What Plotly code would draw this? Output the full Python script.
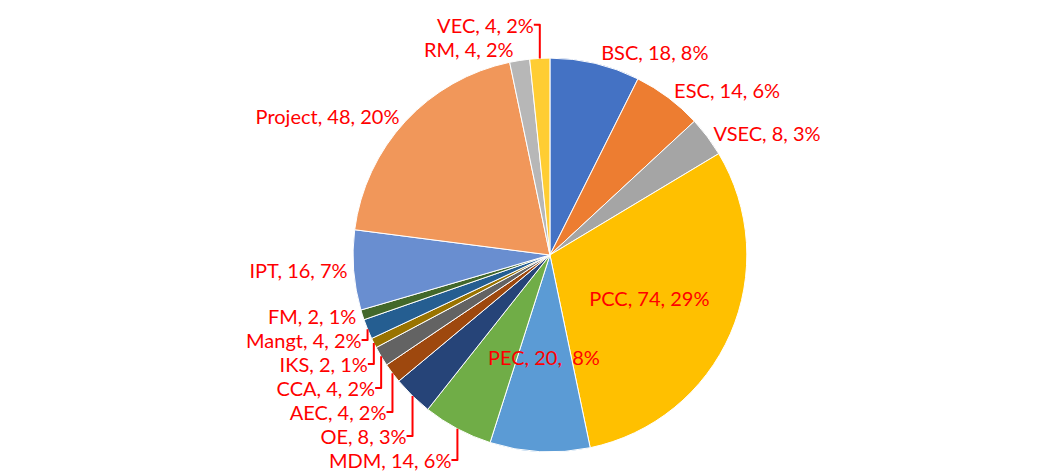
import math
import plotly.graph_objects as go

labels = ["BSC", "ESC", "VSEC", "PCC", "PEC", "MDM", "OE", "AEC", "CCA", "IKS",
          "Mangt", "FM", "IPT", "Project", "RM", "VEC"]
values = [18, 14, 8, 74, 20, 14, 8, 4, 4, 2, 4, 2, 16, 48, 4, 4]
pct_labels = ["8%", "6%", "3%", "29%", "8%", "6%", "3%", "2%", "2%", "1%",
              "2%", "1%", "7%", "20%", "2%", "2%"]
colors = ["#4472C4", "#ED7D31", "#A5A5A5", "#FFC000", "#5B9BD5", "#70AD47",
          "#264478", "#9E480E", "#636363", "#997300", "#255E91", "#43682B",
          "#698ED0", "#F1975A", "#B7B7B7", "#FFCD33"]

W, H = 1063, 471
M = 10
dom_x = [0.185, 0.805]
dom_y = [0.04, 0.96]

texts = []
for l, v, p in zip(labels, values, pct_labels):
    sep = ",  " if l == "PEC" else ", "
    texts.append(f"{l}, {v}{sep}{p}")

# PEC label is drawn as an annotation so it keeps full size like the reference
positions = []
for l in labels:
    if l == "PCC":
        positions.append("inside")
    elif l == "PEC":
        positions.append("none")
    else:
        positions.append("outside")

fig = go.Figure(go.Pie(
    labels=labels,
    values=values,
    text=texts,
    textinfo="text",
    textposition=positions,
    sort=False,
    direction="clockwise",
    rotation=0,
    marker=dict(colors=colors, line=dict(color="white", width=1)),
    textfont=dict(color="#FF0000", size=20, family="Lato"),
    insidetextorientation="horizontal",
    showlegend=False,
    domain=dict(x=dom_x, y=dom_y),
))

# place PEC label at the slice's mid-angle, derived from the data
total = sum(values)
i = labels.index("PEC")
mid = (sum(values[:i]) + values[i] / 2) / total * 2 * math.pi
plot_w, plot_h = W - 2 * M, H - 2 * M
cx = (dom_x[0] + dom_x[1]) / 2
cy = (dom_y[0] + dom_y[1]) / 2
r_px = 0.62 * 197
fig.add_annotation(
    x=cx + r_px * math.sin(mid) / plot_w,
    y=cy + r_px * math.cos(mid) / plot_h,
    xref="paper", yref="paper",
    text=texts[i], showarrow=False,
    font=dict(color="#FF0000", size=20, family="Lato"),
)

fig.update_layout(
    width=W, height=H,
    margin=dict(l=M, r=M, t=M, b=M),
    paper_bgcolor="white",
    plot_bgcolor="white",
    font=dict(family="Lato", color="#FF0000"),
)

fig.write_html("out.html")
